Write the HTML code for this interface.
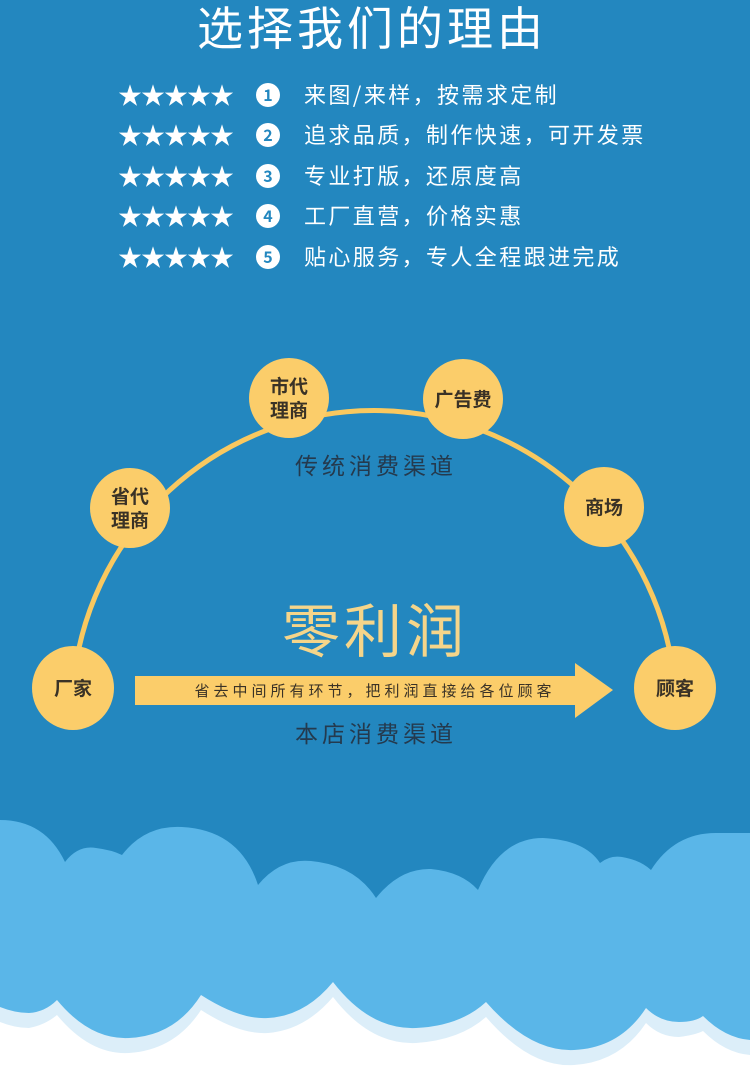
<!DOCTYPE html>
<html><head><meta charset="utf-8"><style>
body{margin:0;width:750px;height:1069px;overflow:hidden;background:#fff;font-family:"Liberation Sans","Noto Sans CJK SC",sans-serif}
</style></head><body>
<svg width="750" height="1069" viewBox="0 0 750 1069" xmlns="http://www.w3.org/2000/svg" style="display:block">
<rect width="750" height="1069" fill="#fff"/>
<rect width="750" height="960" fill="#2387bf"/>
<text x="372" y="45" text-anchor="middle" fill="#fff" font-size="46" font-family="Noto Sans CJK SC,sans-serif" letter-spacing="4">选择我们的理由</text>
<g font-family="Noto Sans CJK SC,sans-serif" fill="#fff">
<g id="r">
<text x="118" y="104" font-size="24" letter-spacing="-1">★★★★★</text>
</g>
<use href="#r" y="40"/><use href="#r" y="81"/><use href="#r" y="121"/><use href="#r" y="162"/>
<g font-weight="bold" font-size="16" text-anchor="middle">
<circle cx="268" cy="95" r="12"/><text x="268" y="101" fill="#2387bf">1</text>
<circle cx="268" cy="135" r="12"/><text x="268" y="141" fill="#2387bf">2</text>
<circle cx="268" cy="176" r="12"/><text x="268" y="182" fill="#2387bf">3</text>
<circle cx="268" cy="216" r="12"/><text x="268" y="222" fill="#2387bf">4</text>
<circle cx="268" cy="257" r="12"/><text x="268" y="263" fill="#2387bf">5</text>
</g>
<g font-size="22" letter-spacing="2.4">
<text x="304" y="103">来图/来样，按需求定制</text>
<text x="304" y="143">追求品质，制作快速，可开发票</text>
<text x="304" y="184">专业打版，还原度高</text>
<text x="304" y="224">工厂直营，价格实惠</text>
<text x="304" y="265">贴心服务，专人全程跟进完成</text>
</g>
</g>
<path d="M73 688 A302 302 0 0 1 675 688" fill="none" stroke="#f9c85f" stroke-width="5"/>
<g fill="#fbcd6a">
<ellipse cx="73" cy="688" rx="41" ry="42"/>
<ellipse cx="675" cy="688" rx="41" ry="42"/>
<circle cx="130" cy="508" r="40"/>
<circle cx="289" cy="398" r="40"/>
<circle cx="463" cy="399" r="40"/>
<circle cx="604" cy="507" r="40"/>
<path d="M135 676 H575 V663 L613 690 L575 718 V705 H135 Z"/>
</g>
<g font-family="Noto Sans CJK SC,sans-serif" font-weight="bold" fill="#3a3226" font-size="19" text-anchor="middle">
<text x="73" y="695">厂家</text>
<text x="675" y="695">顾客</text>
<text x="130" y="503">省代</text><text x="130" y="527">理商</text>
<text x="289" y="393">市代</text><text x="289" y="417">理商</text>
<text x="463" y="406">广告费</text>
<text x="604" y="514">商场</text>
</g>
<g font-family="Noto Sans CJK SC,sans-serif" text-anchor="middle">
<text x="376" y="474" font-size="23" fill="#243a4e" letter-spacing="4">传统消费渠道</text>
<text x="376" y="742" font-size="23" fill="#243a4e" letter-spacing="4">本店消费渠道</text>
<text x="375" y="652" font-size="58" fill="#f5d58a" letter-spacing="4">零利润</text>
<text x="375" y="696" font-size="15" fill="#3a3226" letter-spacing="4">省去中间所有环节，把利润直接给各位顾客</text>
</g>
<path d="M0 950 V1022 Q15 1028 29 1028 Q45 1025 57 1015 Q90 1055 129 1053 Q175 1050 201 1010 Q240 1035 268 1033 Q305 1030 333 997 Q370 1045 416 1043 Q460 1040 486 1017 Q530 1068 574 1065 Q620 1062 646 1023 Q660 1037 679 1037 Q695 1035 703 1031 Q725 1053 750 1055 V950 Z" fill="#dceef9"/>
<path d="M0 820 Q45 820 65 862 Q78 845 96 848 Q112 850 122 855 Q145 825 182 827 Q240 830 258 885 Q280 858 311 861 Q355 865 376 898 Q400 868 431 869 Q462 872 478 890 Q500 838 543 838 Q585 840 600 863 Q610 855 622 857 Q640 860 651 870 Q675 832 718 833 L750 833 V1040 Q725 1038 703 1016 Q695 1022 679 1022 Q660 1022 646 1008 Q620 1048 574 1050 Q530 1052 486 1002 Q460 1026 416 1028 Q370 1030 333 982 Q305 1016 268 1018 Q240 1020 201 995 Q175 1036 129 1038 Q90 1040 57 1000 Q45 1012 29 1013 Q15 1013 0 1007 Z" fill="#5ab6e8"/>
</svg>
</body></html>
